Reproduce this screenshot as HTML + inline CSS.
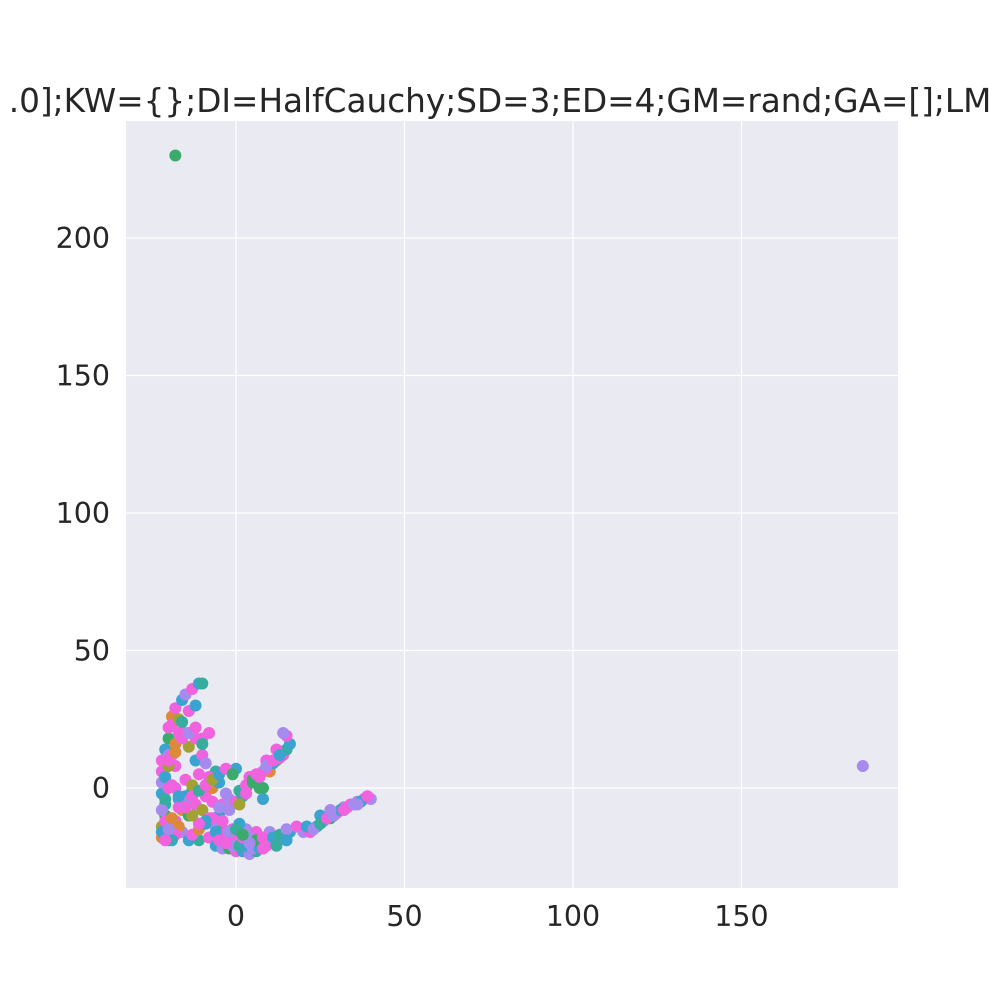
<!DOCTYPE html>
<html><head><meta charset="utf-8"><style>
html,body{margin:0;padding:0;background:#fff;}
svg{display:block;font-family:"DejaVu Sans","Liberation Sans",sans-serif;}
</style></head><body>
<svg id="chart" width="1000" height="1000">
<text x="500" y="112" text-anchor="middle" font-size="32.7" fill="#262626">.0];KW={};DI=HalfCauchy;SD=3;ED=4;GM=rand;GA=[];LM</text>
<rect x="126" y="121" width="772" height="767" fill="#eaeaf2"/>
<g id="grid"></g><g id="ticks"></g><g id="pts"></g>
</svg>
<script>
const xTicks=[0,50,100,150];
const yTicks=[0,50,100,150,200];
const xs=[-22,-22,-21,-21,-22,-22,-22,-22,-21,-20,-20,-19,-18,-16,-15,-13,-11,-10,-19,-17,-20,-18,
-18,-17,-16,-18,-16,-14,-11,-8,-14,-12,-10,-8,-6,-9,-7,-5,-3,-4,-6,-8,-12,-10,-14,-12,-15,-10,-13,-15,-17,-5,-4,-4,
-2,0,2,3,5,6,8,10,12,14,15,16,15,14,9,7,8,4,10,-1,0,12,
-6,-4,-2,0,2,4,6,0,3,6,8,10,12,14,16,20,22,24,26,28,30,32,34,36,38,40,25,29,10,-1,2,
-22,-21,-22,-21,-20,-21,-20,-19,-18,-17,-16,-14,-12,-18,-19,-20,-21,-20,-19,-17,-15,-13,-11,-9,-13,-11,-9,-7,-15,-13,-11,-9,-7,-5,-3,-1,-7,-5,-3,-9,-11,-13,-15,-17,-19,-20,-18,-16,-14,-12,-10,-8,-6,-4,-2,
1,3,5,7,9,11,13,1,3,5,7,9,11,13,6,8,-1,1,
-5,-3,-1,1,3,5,7,9,-2,0,2,4,6,8,11,13,15,18,21,23,25,27,29,31,33,35,37,39,28,32,36,15,12,8,4,2,-3,
-18,186];
const ys=[-18,-14,-10,-6,-2,2,6,10,14,18,22,26,29,32,34,36,38,38,23,25,12,8,
0,-4,-8,-12,-16,-19,-19,-18,-10,-6,-8,-11,-14,-3,0,2,-2,-6,6,4,10,12,15,18,20,18,-1,3,-14,-10,-15,-18,
-4,-5,-3,0,2,4,6,8,10,12,14,16,19,20,10,0,-4,4,6,6,7,14,
-21,-22,-22,-23,-23,-24,-23,-17,-15,-16,-20,-20,-19,-17,-16,-16,-16,-14,-12,-11,-9,-7,-6,-5,-4,-4,-10,-10,-16,-19,-20,
-16,-12,-8,-4,0,4,8,12,16,20,24,28,30,-17,-19,-19,-19,-15,-11,-7,-3,1,5,9,-17,-15,-13,-11,-5,-3,-1,1,3,5,7,5,-5,-7,-16,-12,-13,-10,-7,-3,1,10,13,18,20,22,16,20,-16,-12,-8,
-1,1,3,5,7,9,11,-6,-2,2,4,8,10,12,5,0,-15,-13,
-19,-20,-21,-21,-21,-22,-22,-21,-16,-15,-18,-18,-19,-18,-18,-17,-15,-14,-14,-15,-13,-11,-10,-8,-7,-6,-5,-3,-8,-8,-6,-19,-21,-22,-20,-17,-20,
230,8];
const groups=[0,1,2,3,4,5,6,6,4,2,6,0,6,4,5,6,4,3,6,1,5,6,
6,4,0,6,5,4,3,6,2,6,1,6,5,6,0,4,5,6,3,6,4,6,1,6,5,6,3,6,0,4,2,5,
5,6,3,2,4,6,5,6,1,6,3,4,6,5,6,2,4,6,0,5,4,6,
4,5,2,6,4,5,3,4,5,6,4,2,5,6,4,5,6,4,5,2,6,5,6,5,6,5,4,3,5,6,4,
4,6,5,3,6,4,1,6,0,6,3,6,4,6,4,3,6,5,0,6,4,1,6,5,6,0,4,6,5,6,3,6,1,4,6,2,6,5,6,4,6,1,6,4,6,6,0,6,5,6,3,6,4,6,5,
3,6,2,5,6,4,6,1,6,2,6,5,6,4,6,2,6,4,
6,4,5,3,4,5,4,6,5,3,6,5,2,6,4,3,5,6,4,5,3,6,5,4,6,5,4,6,5,6,5,4,3,6,5,2,6,
2,5];
const palette=["#dc8a3a","#a3a133","#3aab6b","#37ad9e","#3ba3d0","#a68bef","#f062de"];
const X=v=>236+v*3.37, Y=v=>788-v*2.75;
const NS="http://www.w3.org/2000/svg";
const grid=document.getElementById('grid'),tk=document.getElementById('ticks'),pts=document.getElementById('pts');
function mk(tag,attrs,parent){const e=document.createElementNS(NS,tag);for(const k in attrs)e.setAttribute(k,attrs[k]);parent.appendChild(e);return e;}
xTicks.forEach(t=>{
 const l=mk('line',{x1:X(t),x2:X(t),y1:121,y2:888,stroke:'#fff','stroke-width':1.3},grid);
 
 
 const tx=mk('text',{x:X(t),y:926,'text-anchor':'middle','font-size':28.5,fill:'#262626'},tk);
 tx.textContent=t;
 
 
});
yTicks.forEach(t=>{
 const l=mk('line',{x1:126,x2:898,y1:Y(t),y2:Y(t),stroke:'#fff','stroke-width':1.3},grid);
 
 
 const tx=mk('text',{x:110,y:Y(t)+10,'text-anchor':'end','font-size':28.5,fill:'#262626'},tk);
 tx.textContent=t;
 
 
});
for(let i=0;i<xs.length;i++){
 const c=mk('circle',{cx:X(xs[i]),cy:Y(ys[i]),r:6,fill:palette[groups[i]]},pts);
 
 
}
</script>
</body></html>
